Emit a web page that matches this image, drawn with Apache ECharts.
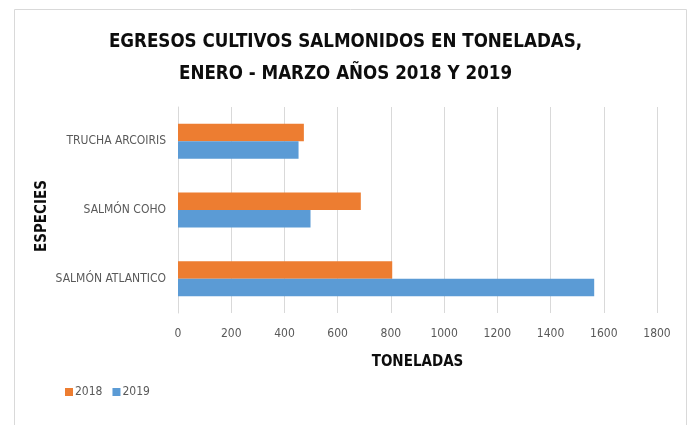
<!DOCTYPE html>
<html>
<head>
<meta charset="utf-8">
<script src="https://cdn.jsdelivr.net/npm/echarts@6/dist/echarts.min.js"></script>
<style>html,body{margin:0;padding:0;background:#fff}#c{width:691px;height:425px}</style>
</head>
<body>
<div id="c"></div>
<script>
const categories = ['SALMÓN ATLANTICO', 'SALMÓN COHO', 'TRUCHA ARCOIRIS'];
const seriesNames = ['2018', '2019'];
const values2018 = [805, 687, 473];
const values2019 = [1564, 498, 453];
const xTicks = [0, 200, 400, 600, 800, 1000, 1200, 1400, 1600, 1800];

const FONT = '"Liberation Sans Narrow", "DejaVu Sans Condensed", "Liberation Sans", sans-serif';
const chart = echarts.init(document.getElementById('c'));
chart.setOption({
  animation: false,
  textStyle: { fontFamily: FONT },
  title: {
    text: 'EGRESOS CULTIVOS SALMONIDOS EN TONELADAS,\nENERO - MARZO AÑOS 2018 Y 2019',
    left: 'center',
    top: 21,
    textStyle: { fontFamily: FONT, fontSize: 18.6, fontWeight: 'bold', color: '#0d0d0d', lineHeight: 32 }
  },
  graphic: [{
    type: 'rect', left: 12, top: 7, silent: true,
    shape: { width: 672, height: 430 },
    style: { fill: 'none', stroke: '#d9d9d9', lineWidth: 1 }
  }],
  legend: {
    data: seriesNames,
    left: 60, top: 381,
    itemWidth: 8, itemHeight: 8, itemGap: 10,
    icon: 'rect',
    textStyle: { fontFamily: FONT, fontSize: 12, color: '#595959', padding: [0, 0, 0, -3] }
  },
  grid: { left: 178, right: 34, top: 107, bottom: 112, containLabel: false },
  xAxis: {
    type: 'value', min: xTicks[0], max: xTicks[xTicks.length - 1], interval: 200,
    axisLine: { show: false }, axisTick: { show: false },
    splitLine: { lineStyle: { color: '#d9d9d9', width: 1 } },
    axisLabel: { color: '#595959', fontSize: 12, margin: 15, fontFamily: FONT,
      formatter: v => String(v) },
    name: 'TONELADAS', nameLocation: 'middle', nameGap: 42, nameMoveOverlap: false,
    nameTextStyle: { fontFamily: FONT, fontSize: 15, fontWeight: 'bold', color: '#0d0d0d' }
  },
  yAxis: {
    type: 'category', data: categories,
    axisLine: { show: true, lineStyle: { color: '#d9d9d9' } },
    axisTick: { show: false },
    axisLabel: { color: '#595959', fontSize: 12, margin: 12, fontFamily: FONT },
    name: 'ESPECIES', nameLocation: 'middle', nameGap: 128, nameRotate: 90, nameMoveOverlap: false,
    nameTextStyle: { fontFamily: FONT, fontSize: 15, fontWeight: 'bold', color: '#0d0d0d',
      padding: [0, 12, 0, 0] }
  },
  series: [
    { name: seriesNames[0], type: 'bar', data: values2018, barGap: '0%', barCategoryGap: '49%',
      itemStyle: { color: '#ed7d31' } },
    { name: seriesNames[1], type: 'bar', data: values2019, barGap: '0%', barCategoryGap: '49%',
      itemStyle: { color: '#5b9bd5' } }
  ]
});
</script>
</body>
</html>
